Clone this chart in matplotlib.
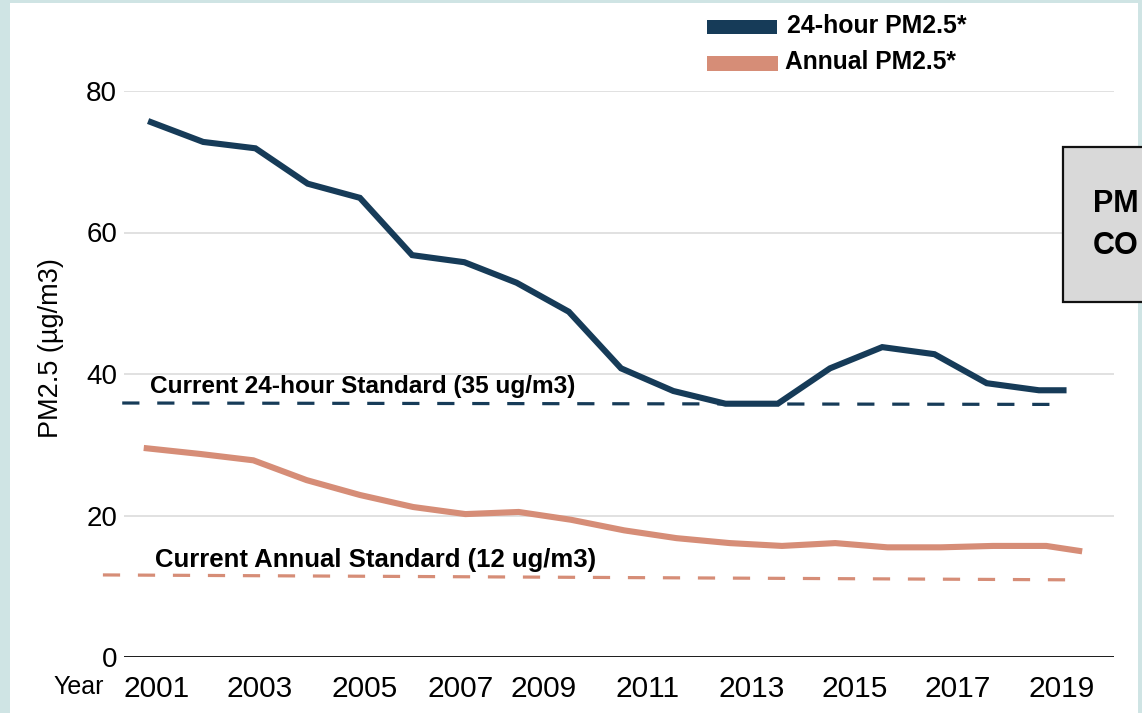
import matplotlib
matplotlib.use("Agg")
import matplotlib.pyplot as plt
from matplotlib.patches import Rectangle

plt.rcParams['font.family'] = ['Liberation Sans', 'DejaVu Sans']
plt.rcParams['lines.scale_dashes'] = False

# ---- data ----
years = [2001, 2002, 2003, 2004, 2005, 2006, 2007, 2008, 2009, 2010,
         2011, 2012, 2013, 2014, 2015, 2016, 2017, 2018, 2019]
# horizontal position of each point on the chart (last point sits short of a full step)
x_pos_24h = [2000.98, 2001.98, 2002.98, 2003.98, 2004.98, 2005.98, 2006.98, 2007.98, 2008.98,
             2009.98, 2010.98, 2011.98, 2012.98, 2013.98, 2014.98, 2015.98, 2016.98, 2017.98,
             2018.45]
x_pos_annual = [2000.9, 2001.92, 2002.94, 2003.96, 2004.98, 2006.0, 2007.0, 2008.02, 2009.02,
                2010.04, 2011.04, 2012.06, 2013.06, 2014.08, 2015.08, 2016.1, 2017.1, 2018.12,
                2018.75]
pm24 = [75.6, 72.8, 71.9, 66.9, 64.9, 56.8, 55.8, 52.9, 48.8, 40.8,
        37.6, 35.8, 35.8, 40.8, 43.8, 42.8, 38.7, 37.7, 37.7]
pm_annual = [29.5, 28.7, 27.8, 25.0, 22.9, 21.2, 20.2, 20.5, 19.4, 17.9,
             16.8, 16.1, 15.7, 16.1, 15.5, 15.5, 15.7, 15.7, 15.0]

std24_x = [2000.43, 2018.34]
std24_y = [35.9, 35.7]
std_annual_x = [2000.06, 2018.77]
std_annual_y = [11.6, 10.9]

y_ticks = [0, 20, 40, 60, 80]
x_tick_labels = ['2001', '2003', '2005', '2007', '2009', '2011', '2013', '2015', '2017', '2019']
x_tick_pos = [2001.08, 2003.07, 2005.08, 2006.90, 2008.49, 2010.48, 2012.49, 2014.46, 2016.43, 2018.42]

legend_labels = ['24-hour PM2.5*', 'Annual PM2.5*']
std_labels = ['Current 24-hour Standard (35 ug/m3)', 'Current Annual Standard (12 ug/m3)']

BLUE = '#163b58'
ORANGE = '#d68d77'
TEAL = '#cfe4e4'
GRID = '#d9d9d9'

W, H = 1142, 713
fig = plt.figure(figsize=(W / 100, H / 100), dpi=100)
fig.patch.set_facecolor('white')

def fx(px):
    return px / W

def fy(py):
    return 1 - py / H

# frame strips
fig.patches.append(Rectangle((0, 0), fx(10), 1, transform=fig.transFigure,
                             facecolor=TEAL, edgecolor='none', zorder=0))
fig.patches.append(Rectangle((0, fy(2.5)), 1, fy(0) - fy(2.5), transform=fig.transFigure,
                             facecolor=TEAL, edgecolor='none', zorder=0))
fig.patches.append(Rectangle((fx(1137.5), 0), 1, 1, transform=fig.transFigure,
                             facecolor=TEAL, edgecolor='none', zorder=0))

ax = fig.add_axes([fx(124), fy(657), fx(1114) - fx(124), fy(91) - fy(657)])
ax.set_facecolor('none')
ax.set_xlim(2000.464, 2019.417)
ax.set_ylim(0, 80)
for s in ax.spines.values():
    s.set_visible(False)

for t in y_ticks[1:]:
    ax.axhline(t, color=GRID, lw=1.1, zorder=1)
ax.axhline(0, color='#1a1a1a', lw=1.4, zorder=2)

ax.set_yticks(y_ticks)
ax.set_yticklabels([str(t) for t in y_ticks], fontsize=20)
ax.tick_params(axis='y', length=0, pad=5)
ax.set_xticks(x_tick_pos)
ax.set_xticklabels(x_tick_labels, fontsize=21.5)
ax.tick_params(axis='x', length=0, pad=13)

ax.plot(x_pos_24h, pm24, color=BLUE, lw=4.4, solid_joinstyle='miter', zorder=4, clip_on=False)
ax.plot(x_pos_annual, pm_annual, color=ORANGE, lw=4.4, solid_joinstyle='miter', zorder=4,
        clip_on=False)

ax.plot(std24_x, std24_y, color=BLUE, lw=2.3, dashes=(12.4, 12.8), dash_capstyle='butt',
        zorder=3, clip_on=False)
ax.plot(std_annual_x, std_annual_y, color=ORANGE, lw=2.3, dashes=(12.4, 12.8),
        dash_capstyle='butt', zorder=3, clip_on=False)

fig.text(fx(150), fy(393), std_labels[0], fontsize=17.6, fontweight='bold',
         ha='left', va='baseline')
fig.text(fx(155), fy(567), std_labels[1], fontsize=18.5, fontweight='bold',
         ha='left', va='baseline')

fig.text(fx(51), fy(348), 'PM2.5 (µg/m3)', fontsize=19.5, rotation=90,
         ha='center', va='center')
fig.text(fx(53), fy(694), 'Year', fontsize=18, ha='left', va='baseline')

# legend (manual)
fig.patches.append(Rectangle((fx(707), fy(34)), fx(777) - fx(707), fy(20) - fy(34),
                             transform=fig.transFigure, facecolor=BLUE, edgecolor='none'))
fig.patches.append(Rectangle((fx(707), fy(71)), fx(778) - fx(707), fy(56) - fy(71),
                             transform=fig.transFigure, facecolor=ORANGE, edgecolor='none'))
fig.text(fx(787), fy(33), legend_labels[0], fontsize=17.9, fontweight='bold',
         ha='left', va='baseline')
fig.text(fx(785), fy(69), legend_labels[1], fontsize=17.7, fontweight='bold',
         ha='left', va='baseline')

# partially visible grey callout box on the right
fig.patches.append(Rectangle((fx(1063), fy(302)), fx(1160) - fx(1063), fy(147) - fy(302),
                             transform=fig.transFigure, facecolor='#d9d9d9',
                             edgecolor='#111111', lw=1.6, zorder=5))
fig.text(fx(1093), fy(212), 'PM', fontsize=22, fontweight='bold', ha='left',
         va='baseline', zorder=6)
fig.text(fx(1093), fy(254), 'CO', fontsize=22, fontweight='bold', ha='left',
         va='baseline', zorder=6)

fig.savefig('out.png', dpi=100, facecolor='white')
